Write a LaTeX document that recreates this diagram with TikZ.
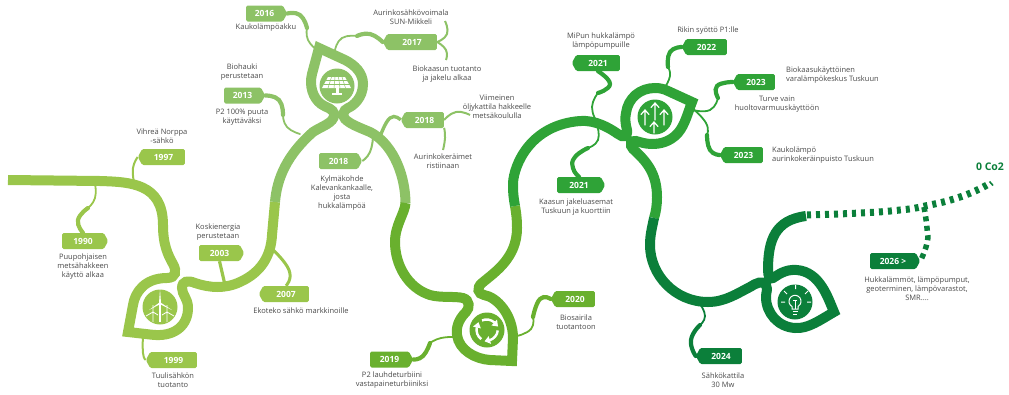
\documentclass[tikz,border=0pt]{standalone}
\usepackage{fontspec}
\setmainfont{Open Sans}
\usetikzlibrary{shapes.symbols}
\definecolor{gA}{HTML}{9AC64B}
\definecolor{gB}{HTML}{8DC266}
\definecolor{gC}{HTML}{69B02E}
\definecolor{gD}{HTML}{2FA337}
\definecolor{gE}{HTML}{0B7F3A}
\definecolor{txt}{HTML}{4A4A4A}
\tikzset{
  road/.style={line width=10pt,line join=miter,miter limit=10},
  twigthin/.style={line width=1.8pt,line cap=round},
  twigthick/.style={line width=4.2pt,line cap=round},
  lab/.style={font=\fontsize{7.5}{9}\selectfont,text=txt,align=center,inner sep=0pt},
  tagbase/.style={fill=#1,text=white,font=\fontsize{8.5}{9}\selectfont\bfseries,signal,signal from=nowhere,signal pointer angle=125,rounded corners=1.5pt,inner sep=0pt,minimum height=16pt},
  tagR/.style={tagbase=#1,signal to=east},
  tagL/.style={tagbase=#1,signal to=west},
  sm/.style={smooth,tension=0.9},
}
\begin{document}
\begin{tikzpicture}[x=1pt,y=-1pt]
\useasboundingbox (0,0) rectangle (1009,394);

% ---------- road ----------
\draw[road,gA] (8,180) -- (100,181) .. controls (130,182) and (163,183) .. (163,225)
  .. controls (163,245) and (168,255) .. (173,264)
  .. controls (177,271) and (176,278) .. (167,278)
  .. controls (145,278) and (135,292) .. (133,305)
  -- (128,332) -- (150,334.5)
  .. controls (175,338) and (188,325) .. (188,308)
  .. controls (188,298) and (182,295) .. (182,288)
  .. controls (182,281) and (188,280) .. (195,283)
  .. controls (210,288) and (225,289) .. (240,282)
  .. controls (262,272) and (271,255) .. (272,235) -- (275,202);
\draw[road,gB] (275,202) .. controls (277,178) and (287,155) .. (313,132)
  .. controls (322,126) and (334,123) .. (334,115)
  .. controls (334,108) and (326,108) .. (321,104)
  .. controls (313,98) and (309,86) .. (312,74)
  -- (319,48) -- (345,60)
  .. controls (355,65) and (363,73) .. (363,84)
  .. controls (363,98) and (353,106) .. (348,108)
  .. controls (343,110) and (342,116) .. (345,119)
  .. controls (350,124) and (358,127) .. (370,132)
  .. controls (390,142) and (405,170) .. (405.5,203);
\draw[road,gC] (405.5,203) .. controls (405,213) and (395,225) .. (395,242)
  .. controls (395,265) and (408,288) .. (430,295)
  .. controls (440,298) and (455,296) .. (463,298)
  .. controls (470,300) and (470,308) .. (466,312)
  .. controls (458,320) and (456,328) .. (457,335)
  .. controls (459,350) and (475,359) .. (490,360)
  -- (512,361) -- (513,338)
  .. controls (513,315) and (497,297) .. (484,295)
  .. controls (478,294) and (476,288) .. (482,283)
  .. controls (495,272) and (517,258) .. (517,228)
  .. controls (517,218) and (516,212) .. (515,206);
\draw[road,gD] (515,206) .. controls (513,195) and (513,190) .. (513,183)
  .. controls (514,165) and (530,125) .. (580,121)
  .. controls (595,120) and (608,127) .. (618,134)
  .. controls (623,138) and (628,137) .. (627,130)
  .. controls (625,122) and (625,118) .. (626,113)
  .. controls (628,98) and (640,88) .. (655,88)
  .. controls (660,88) and (664,89) .. (668,91)
  -- (692,102)
  .. controls (688,112) and (685,125) .. (678,133)
  .. controls (670,142) and (660,144) .. (652,144)
  .. controls (645,144) and (640,142) .. (636,141)
  .. controls (631,140) and (629,145) .. (633,149)
  .. controls (645,160) and (657,172) .. (657,197)
  .. controls (657,205) and (656,212) .. (654,218);
\draw[road,gE] (654,218) .. controls (652,228) and (650,235) .. (650,245)
  .. controls (650,275) and (675,302) .. (708,302)
  .. controls (725,302) and (738,293) .. (750,287)
  .. controls (756,283) and (763,280) .. (766,285)
  .. controls (768,290) and (766,292) .. (766,297)
  .. controls (766,313) and (778,327) .. (795,328)
  .. controls (808,329) and (820,320) .. (834,312)
  .. controls (828,298) and (820,272) .. (797,270)
  .. controls (785,269) and (778,275) .. (773,278)
  .. controls (770,280) and (768,276) .. (768,270)
  .. controls (768,240) and (775,220) .. (806,216);

% ---------- dashed future ----------
\draw[gE,line width=7pt,dash pattern=on 4pt off 5pt] plot[sm] coordinates {(807,215) (860,213) (900,210) (925,206) (960,197) (987,185)};
\draw[gE,line width=1.6pt] (989.5,181.5) -- (993,185.5);
\coordinate (rFuture) at (924,207);

% ---------- tags ----------
\node[tagR=gA,minimum width=46pt] (t1990) at (83,241) {1990};
\node[tagL=gA,minimum width=47pt] (t1997) at (163.5,157) {1997};
\node[tagR=gA,minimum width=45pt] (t2003) at (219.5,253) {2003};
\node[tagL=gA,minimum width=50pt] (t2007) at (286,294) {2007};
\node[tagL=gA,minimum width=51pt] (t1999) at (173.5,360) {1999};
\node[tagR=gB,minimum width=41pt] (t2016) at (264.5,13.5) {2016};
\node[tagR=gB,minimum width=41pt] (t2013) at (242.5,95.5) {2013};
\node[tagL=gB,minimum width=54pt] (t2017) at (412,42) {2017};
\node[tagL=gB,minimum width=43pt] (t2018a) at (424.5,120) {2018};
\node[tagR=gB,minimum width=43pt] (t2018b) at (338.5,161) {2018};
\node[tagR=gC,minimum width=43pt] (t2019) at (389.5,359.5) {2019};
\node[tagL=gC,minimum width=44pt] (t2020) at (575,299) {2020};
\node[tagL=gD,minimum width=48pt] (t2021a) at (598,63) {2021};
\node[tagR=gD,minimum width=48pt] (t2021b) at (579,185) {2021};
\node[tagL=gD,minimum width=45pt] (t2022) at (706.5,47) {2022};
\node[tagL=gD,minimum width=42pt] (t2023a) at (756,82) {2023};
\node[tagL=gD,minimum width=43pt] (t2023b) at (743.5,155) {2023};
\node[tagL=gE,minimum width=46pt] (t2024) at (721,356) {2024};
\node[tagR=gE,minimum width=50pt] (t2026) at (893,261) {2026 >};

% ---------- twigs ----------
\coordinate (r1990) at (95,184);
\coordinate (k1990) at (88,208);
\draw[gA,twigthin] plot[sm] coordinates {(r1990) (95,198) (k1990)};
\draw[gA,twigthick] plot[sm] coordinates {(k1990) (78,220) (t1990.north)};
\coordinate (r1997) at (134,182);
\draw[gA,line width=2pt] plot[sm] coordinates {(r1997) (133,168) (t1997.west)};
\coordinate (r2003) at (225,285);
\draw[gA,line width=3.2pt] (t2003.south) -- (r2003);
\coordinate (r2007) at (271,248);
\draw[gA,line width=3pt] plot[sm] coordinates {(r2007) (289,270) (t2007.north)};
\coordinate (r1999) at (143,335);
\draw[gA,line width=2pt] plot[sm] coordinates {(r1999) (143,353) (t1999.west)};
\coordinate (r2016) at (317,50);
\coordinate (k2016) at (307,28);
\draw[gB,twigthin] plot[sm] coordinates {(r2016) (308,40) (k2016)};
\draw[gB,twigthick] plot[sm] coordinates {(k2016) (300,15) (t2016.east)};
\coordinate (r2013) at (300,134);
\coordinate (k2013) at (283,115);
\draw[gB,twigthin] plot[sm] coordinates {(r2013) (287,127) (k2013)};
\draw[gB,twigthick] plot[sm] coordinates {(k2013) (279,100) (t2013.east)};
\coordinate (r2017) at (335,50);
\coordinate (k2017) at (357,36);
\draw[gB,twigthin] plot[sm] coordinates {(r2017) (342,38) (k2017)};
\draw[gB,twigthick] plot[sm] coordinates {(k2017) (370,34) (t2017.west)};
\coordinate (e2017a) at (445,21);
\coordinate (e2017b) at (446,60);
\draw[gB,line width=2pt] plot[sm] coordinates {(t2017.east) (447,34) (e2017a)};
\draw[gB,line width=2pt] plot[sm] coordinates {(t2017.east) (446,50) (e2017b)};
\coordinate (r2018) at (380,137);
\draw[gB,line width=3.4pt] plot[sm] coordinates {(r2018) (390,118) (t2018a.west)};
\coordinate (e2018a) at (470,115);
\coordinate (e2018b) at (443,150);
\draw[gB,line width=2pt] plot[sm] coordinates {(t2018a.east) (456,112) (e2018a)};
\draw[gB,line width=2pt] plot[sm] coordinates {(t2018a.south east) (445,138) (e2018b)};
\coordinate (r2018b) at (373,137);
\draw[gB,line width=2pt] plot[sm] coordinates {(r2018b) (370,152) (t2018b.east)};
\coordinate (r2019) at (456,337);
\coordinate (k2019) at (430,343);
\draw[gC,twigthin] plot[sm] coordinates {(r2019) (441,338) (k2019)};
\draw[gC,twigthick] plot[sm] coordinates {(k2019) (423,356) (t2019.east)};
\coordinate (r2020) at (517,336);
\coordinate (k2020) at (533,317);
\draw[gC,twigthin] plot[sm] coordinates {(r2020) (531,329) (k2020)};
\draw[gC,twigthick] plot[sm] coordinates {(k2020) (540,299) (t2020.west)};
\coordinate (r2021a) at (597,122);
\coordinate (k2021a) at (598,93);
\draw[gD,twigthin] plot[sm] coordinates {(r2021a) (592,107) (k2021a)};
\draw[gD,twigthick] plot[sm] coordinates {(k2021a) (610,84) (t2021a.south)};
\coordinate (r2021b) at (597,125);
\coordinate (k2021b) at (588,148);
\draw[gD,twigthin] plot[sm] coordinates {(r2021b) (598,140) (k2021b)};
\draw[gD,twigthick] plot[sm] coordinates {(k2021b) (575,157) (573,168) (t2021b.north)};
\coordinate (r2022) at (665,87);
\coordinate (k2022) at (668,67);
\draw[gD,twigthin] plot[sm] coordinates {(r2022) (670,76) (k2022)};
\draw[gD,twigthick] plot[sm] coordinates {(k2022) (670,52) (t2022.west)};
\coordinate (r2023a) at (693,110);
\coordinate (k2023a) at (718,98);
\draw[gD,twigthin] plot[sm] coordinates {(r2023a) (710,110) (k2023a)};
\draw[gD,twigthick] plot[sm] coordinates {(k2023a) (717,86) (t2023a.west)};
\coordinate (r2023b) at (692,108);
\coordinate (k2023b) at (707,135);
\draw[gD,twigthin] plot[sm] coordinates {(r2023b) (706,123) (k2023b)};
\draw[gD,twigthick] plot[sm] coordinates {(k2023b) (710,150) (t2023b.west)};
\coordinate (r2024) at (700,304);
\coordinate (k2024) at (700,325);
\draw[gE,twigthin] plot[sm] coordinates {(r2024) (705,316) (k2024)};
\draw[gE,twigthick] plot[sm] coordinates {(k2024) (691,340) (t2024.west)};
\draw[gE,line width=5.5pt,dash pattern=on 5pt off 4.5pt] plot[sm] coordinates {(rFuture) (927,228) (927,243) (t2026.east)};

% ---------- labels ----------
\node[lab] (l1990) at (83,267) {Puupohjaisen\\metsähakkeen\\käyttö alkaa};
\node[lab] (l1997) at (162,136) {Vihreä Norppa\\-sähkö};
\node[lab] (l2003) at (218,232) {Koskienergia\\perustetaan};
\node[lab] (l2007) at (301,311) {Ekoteko sähkö markkinoille};
\node[lab] (l1999) at (173,380) {Tuulisähkön\\tuotanto};
\node[lab] (l2016) at (266,28) {Kaukolämpöakku};
\node[lab] (l2017a) at (411,17) {Aurinkosähkövoimala\\SUN-Mikkeli};
\node[lab] (l2017b) at (447,74) {Biokaasun tuotanto\\ja jakelu alkaa};
\node[lab] (l2013a) at (242,72) {Biohauki\\perustetaan};
\node[lab] (l2013b) at (242,117) {P2 100\% puuta\\käyttäväksi};
\node[lab] (l2018a) at (497,107) {Viimeinen\\öljykattila hakkeelle\\metsäkoululla};
\node[lab] (l2018b) at (443,161) {Aurinkokeräimet\\ristiinaan};
\node[lab] (l2018c) at (342,193.5) {Kylmäkohde\\Kalevankankaalle,\\josta\\hukkalämpöä};
\node[lab] (l2019) at (392,380) {P2 lauhdeturbiini\\vastapaineturbiiniksi};
\node[lab] (l2020) at (576,322) {Biosairila\\tuotantoon};
\node[lab] (l2021a) at (601,41) {MiPun hukkalämpö\\lämpöpumpuille};
\node[lab] (l2021b) at (576,207) {Kaasun jakeluasemat\\Tuskuun ja kuorttiin};
\node[lab] (l2022) at (708,31) {Rikin syöttö P1:lle};
\node[lab,anchor=west,align=left] (l2023a) at (786,75) {Biokaasukäyttöinen\\varalämpökeskus Tuskuun};
\node[lab] (l2023c) at (777,104) {Turve vain\\huoltovarmuuskäyttöön};
\node[lab,anchor=west,align=left] (l2023b) at (772,155) {Kaukolämpö\\aurinkokeräinpuisto Tuskuun};
\node[lab] (l2024) at (723,380) {Sähkökattila\\30 Mw};
\node[lab] (l2026) at (917,289) {Hukkalämmöt, lämpöpumput,\\geoterminen, lämpövarastot,\\SMR....};
\node[inner sep=0pt,text=gE,font=\fontsize{10.5}{11}\selectfont\bfseries] (lzero) at (990,167) {0 Co2};

% ---------- icon discs ----------
\fill[gA] (160,307) circle (17.5);
\fill[gB] (337,86) circle (17.5);
\fill[gC] (487,330) circle (17.5);
\fill[gD] (655,117) circle (17.5);
\fill[gE] (795,302) circle (17.5);

% wind turbines
\begin{scope}[white,line width=0.8pt]
\draw[line width=1.1pt] (160,303) -- (160,322);
\fill (159,303) -- (160,289) -- (161,303) -- cycle;
\fill (159.5,302.5) -- (149,310) -- (160.5,304) -- cycle;
\fill (159.5,304) -- (172,310) -- (160.5,302.5) -- cycle;
\draw (153,312) -- (153,322) (153,312) -- (153,305) (153,312) -- (146,316) (153,312) -- (158,315);
\draw (167,312) -- (167,322) (167,312) -- (167,305) (167,312) -- (174,316) (167,312) -- (162,315);
\end{scope}

% solar panel
\fill[white] (328,77) -- (345,77) -- (351,88) -- (322,88) -- cycle;
\begin{scope}[gB,line width=0.5pt]
\draw (325.5,80.7) -- (347.5,80.7) (323.7,84.4) -- (349.5,84.4);
\draw (331.5,77) -- (328,88) (335,77) -- (334,88) (338.5,77) -- (340,88) (342,77) -- (345.5,88);
\end{scope}
\fill[white] (335.5,88) rectangle (338.5,93);
\fill[white] (332,93) rectangle (342,94.5);

% recycle arrows
\foreach \ang in {0,120,240}{
\begin{scope}[shift={(487,330)},rotate=\ang,white]
\draw[line width=2.4pt] (-5,-9.5) .. controls (-1,-11.5) and (4,-10.5) .. (7.5,-7.5);
\fill (10,-10.5) -- (4.5,-4.5) -- (11,-3.5) -- cycle;
\end{scope}}

% arrows up
\begin{scope}[white,line width=1.2pt,line cap=round]
\draw (655,120) -- (655,103) (651,107.5) -- (655,103) -- (659,107.5);
\draw (645,125) -- (645,110) (641,114.5) -- (645,110) -- (649,114.5);
\draw (664,125) -- (664,110) (660,114.5) -- (664,110) -- (668,114.5);
\draw (654,133) -- (654,122) (650,126.5) -- (654,122) -- (658,126.5);
\end{scope}

% bulb
\begin{scope}[white,line width=1pt]
\draw (792,309) -- (792,306.5) arc (-240:60:6) -- (798,309) -- cycle;
\draw (792.5,311.5) -- (797.5,311.5) (793,314) -- (797,314);
\draw (793,300) -- (797,300) (795,300) -- (795,309);
\draw (795.5,285) -- (795.5,289) (781,302) -- (785,302) (807,302) -- (811,302) (784,291) -- (787,294) (808,291) -- (805,294);
\end{scope}
\end{tikzpicture}
\end{document}
